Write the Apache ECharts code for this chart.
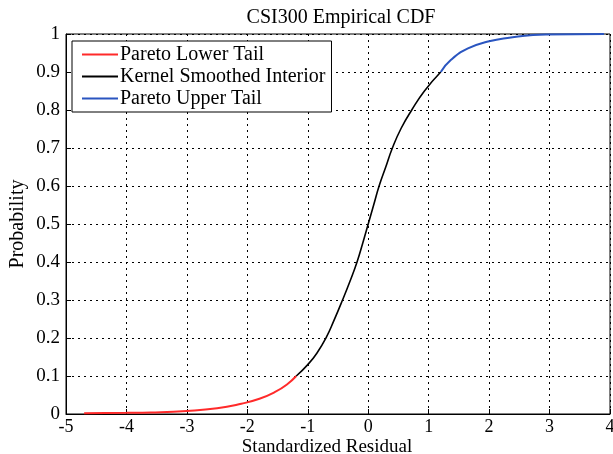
<!DOCTYPE html>
<html>
<head>
<meta charset="utf-8">
<script src="https://cdn.jsdelivr.net/npm/echarts@6/dist/echarts.min.js"></script>
<style>html,body{margin:0;padding:0;background:#fff}#c{width:613px;height:454px}</style>
</head>
<body>
<div id="c"></div>
<script>
const lowerX = [-4.7, -4.0, -3.6, -3.0, -2.5, -2.1, -1.8, -1.54, -1.35, -1.19];
const lowerY = [0.002, 0.003, 0.004, 0.008, 0.015, 0.027, 0.04, 0.058, 0.077, 0.1];
const interiorX = [-1.19, -1.0, -0.85, -0.69, -0.57, -0.43, -0.3, -0.185, -0.09, 0.0, 0.09, 0.18, 0.29, 0.40, 0.545, 0.72, 0.93, 1.2];
const interiorY = [0.1, 0.13, 0.16, 0.203, 0.245, 0.298, 0.35, 0.4, 0.45, 0.5, 0.55, 0.6, 0.65, 0.7, 0.752, 0.8, 0.85, 0.9];
const upperX = [1.2, 1.37, 1.65, 2.0, 2.36, 2.64, 2.94, 3.9];
const upperY = [0.9, 0.932, 0.962, 0.981, 0.991, 0.996, 0.999, 1.0];
const seriesNames = ['Pareto Lower Tail', 'Kernel Smoothed Interior', 'Pareto Upper Tail'];
const seriesColors = ['#ff2a2a', '#000000', '#2a55c0'];

const F = 'Liberation Serif';
const pairs = (xs, ys) => xs.map((x, i) => [x, ys[i]]);
const chart = echarts.init(document.getElementById('c'));
chart.setOption({
  animation: false,
  backgroundColor: '#fff',
  title: {
    text: 'CSI300 Empirical CDF', left: 336, top: 3, textAlign: 'center',
    textStyle: {fontFamily: F, fontSize: 20, fontWeight: 'normal', color: '#000'}
  },
  grid: {left: 66, right: 3, top: 34, bottom: 40, show: true, borderColor: '#000', borderWidth: 1,
         containLabel: false, outerBoundsMode: 'none'},
  legend: {
    orient: 'vertical', left: 72, top: 41, padding: [3, 6, 3, 10],
    backgroundColor: '#fff', borderColor: '#000', borderWidth: 1,
    icon: 'rect', itemWidth: 36, itemHeight: 2, itemGap: 1,
    textStyle: {fontFamily: F, fontSize: 20, color: '#000', padding: [0, 0, 0, -3], lineHeight: 21},
    data: seriesNames
  },
  xAxis: {
    type: 'value', min: -5, max: 4, interval: 1,
    name: 'Standardized Residual', nameLocation: 'middle', nameGap: 24, nameMoveOverlap: false,
    nameTextStyle: {fontFamily: F, fontSize: 19, color: '#000', padding: [0, 22, 0, 0]},
    axisLine: {show: true, onZero: false, lineStyle: {color: '#000'}},
    axisTick: {show: true, inside: true, length: 5, lineStyle: {color: '#000'}},
    axisLabel: {fontFamily: F, fontSize: 18, color: '#000', margin: 4},
    splitLine: {show: true, lineStyle: {color: '#000', type: [2, 4], width: 1}}
  },
  yAxis: {
    type: 'value', min: 0, max: 1, interval: 0.1,
    name: 'Probability', nameLocation: 'middle', nameGap: 38, nameMoveOverlap: false,
    nameTextStyle: {fontFamily: F, fontSize: 20, color: '#000'},
    axisLine: {show: true, onZero: false, lineStyle: {color: '#000'}},
    axisTick: {show: true, inside: true, length: 5, lineStyle: {color: '#000'}},
    axisLabel: {fontFamily: F, fontSize: 19, color: '#000', margin: 6,
      formatter: v => String(Math.round(v * 10) / 10)},
    splitLine: {show: true, lineStyle: {color: '#000', type: [2, 4], width: 1}}
  },
  series: [
    {name: seriesNames[0], type: 'line', data: pairs(lowerX, lowerY), smooth: 0.5, showSymbol: false,
     lineStyle: {color: seriesColors[0], width: 2}, itemStyle: {color: seriesColors[0]}},
    {name: seriesNames[1], type: 'line', data: pairs(interiorX, interiorY), smooth: 0.5, showSymbol: false,
     lineStyle: {color: seriesColors[1], width: 1.6}, itemStyle: {color: seriesColors[1]}},
    {name: seriesNames[2], type: 'line', data: pairs(upperX, upperY), smooth: 0.5, showSymbol: false,
     lineStyle: {color: seriesColors[2], width: 2}, itemStyle: {color: seriesColors[2]}}
  ]
});
</script>
</body>
</html>
